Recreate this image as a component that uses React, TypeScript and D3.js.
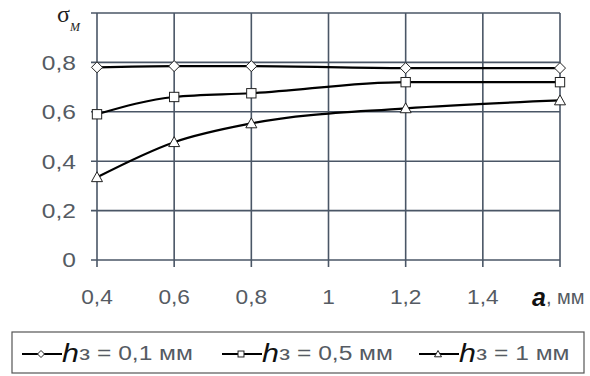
import React from 'react';
import * as d3 from 'd3';

// Data
const aValues = [0.4, 0.6, 0.8, 1.2, 1.6];
const series01 = [0.78, 0.785, 0.785, 0.777, 0.777]; // h3 = 0,1 мм
const series05 = [0.59, 0.66, 0.675, 0.72, 0.72]; // h3 = 0,5 мм
const series1 = [0.335, 0.477, 0.553, 0.614, 0.646]; // h3 = 1 мм
const xTicks = [0.4, 0.6, 0.8, 1, 1.2, 1.4, 1.6];
const xTickLabels = ['0,4', '0,6', '0,8', '1', '1,2', '1,4', ''];
const yTicks = [0, 0.2, 0.4, 0.6, 0.8, 1];
const yTickLabels = ['0', '0,2', '0,4', '0,6', '0,8', ''];
const legendLabels = ['з = 0,1 мм', 'з = 0,5 мм', 'з = 1 мм'];

const W = 590;
const H = 376;
const grid = '#4a5666';
const labelColor = '#555b63';
const font = '"Liberation Sans", Arial, sans-serif';
const SX = 1.17; // the source text is a bit wider than Arial

const x = d3.scaleLinear().domain([0.4, 1.6]).range([97, 560]);
const y = d3.scaleLinear().domain([0, 1]).range([260, 13]);

const line = d3
  .line<number>()
  .x((_, i) => x(aValues[i]))
  .y((d) => y(d))
  .curve(d3.curveMonotoneX);

const Marker = ({ type, cx, cy, s }: { type: string; cx: number; cy: number; s: number }) => {
  const style = { fill: '#fff', stroke: '#222', strokeWidth: 1 };
  if (type === 'diamond') {
    return <path d={`M${cx},${cy - s}L${cx + s},${cy}L${cx},${cy + s}L${cx - s},${cy}Z`} {...style} />;
  }
  if (type === 'square') {
    return <rect x={cx - s * 0.85} y={cy - s * 0.85} width={s * 1.7} height={s * 1.7} {...style} />;
  }
  return <path d={`M${cx},${cy - s}L${cx + s},${cy + s * 0.8}L${cx - s},${cy + s * 0.8}Z`} {...style} />;
};

const seriesList = [
  { values: series01, marker: 'diamond' },
  { values: series05, marker: 'square' },
  { values: series1, marker: 'triangle' },
];

const legendX = [22, 222, 419];

export default function App() {
  return (
    <div style={{ position: 'absolute', left: 0, top: 0 }}>
      <svg width={W} height={H} style={{ display: 'block', background: '#fff' }}>
        {/* grid */}
        {yTicks.map((t) => (
          <line key={'gy' + t} x1={x(0.4) - 6} x2={x(1.6)} y1={y(t)} y2={y(t)} stroke={grid} strokeWidth={1.6} />
        ))}
        {xTicks.map((t) => (
          <line key={'gx' + t} x1={x(t)} x2={x(t)} y1={y(1)} y2={y(0) + 7} stroke={grid} strokeWidth={1.6} />
        ))}
        {/* y labels */}
        {yTicks.map((t, i) => (
          <text key={'ly' + t} transform={`translate(76,${y(t)}) scale(${SX},1)`} textAnchor="end" dominantBaseline="central"
            fontFamily={font} fontSize={21} fill={labelColor}>{yTickLabels[i]}</text>
        ))}
        {/* x labels */}
        {xTicks.map((t, i) => (
          <text key={'lx' + t} transform={`translate(${x(t)},297) scale(1.08,1)`} textAnchor="middle" dominantBaseline="central"
            fontFamily={font} fontSize={21} fill={labelColor}>{xTickLabels[i]}</text>
        ))}
        <text x={532} y={297} dominantBaseline="central" fontFamily={font} fontSize={20} fill={labelColor}>
          <tspan fontWeight="bold" fontStyle="italic" fill="#111" fontSize={25}>a</tspan>
          <tspan>, мм</tspan>
        </text>
        {/* y title */}
        <text x={57} y={22} fontFamily='"Liberation Serif", serif' fontSize={24} fill="#222">σ</text>
        <text x={70} y={31} fontFamily='"Liberation Serif", serif' fontStyle="italic" fontSize={12} fill="#222">М</text>
        {/* series */}
        {seriesList.map((s, si) => (
          <g key={'s' + si}>
            <path d={line(s.values) || ''} fill="none" stroke="#000" strokeWidth={2.2} />
            {s.values.map((v, i) => (
              <Marker key={i} type={s.marker} cx={x(aValues[i])} cy={y(v)} s={5.5} />
            ))}
          </g>
        ))}
        {/* legend */}
        <rect x={12} y={332} width={572} height={41} fill="#fff" stroke="#555" strokeWidth={1.2} />
        {legendLabels.map((lab, i) => (
          <g key={'lg' + i}>
            <line x1={legendX[i]} x2={legendX[i] + 40} y1={354} y2={354} stroke="#000" strokeWidth={2.2} />
            <Marker type={seriesList[i].marker} cx={legendX[i] + 19} cy={354} s={3.5} />
            <text transform={`translate(${legendX[i] + 40},353) scale(${SX},1)`} dominantBaseline="central" fontFamily={font} fontSize={21} fill={labelColor}>
              <tspan fontStyle="italic" fontSize={26} fill="#111">h</tspan>
              <tspan>{lab}</tspan>
            </text>
          </g>
        ))}
      </svg>
    </div>
  );
}
